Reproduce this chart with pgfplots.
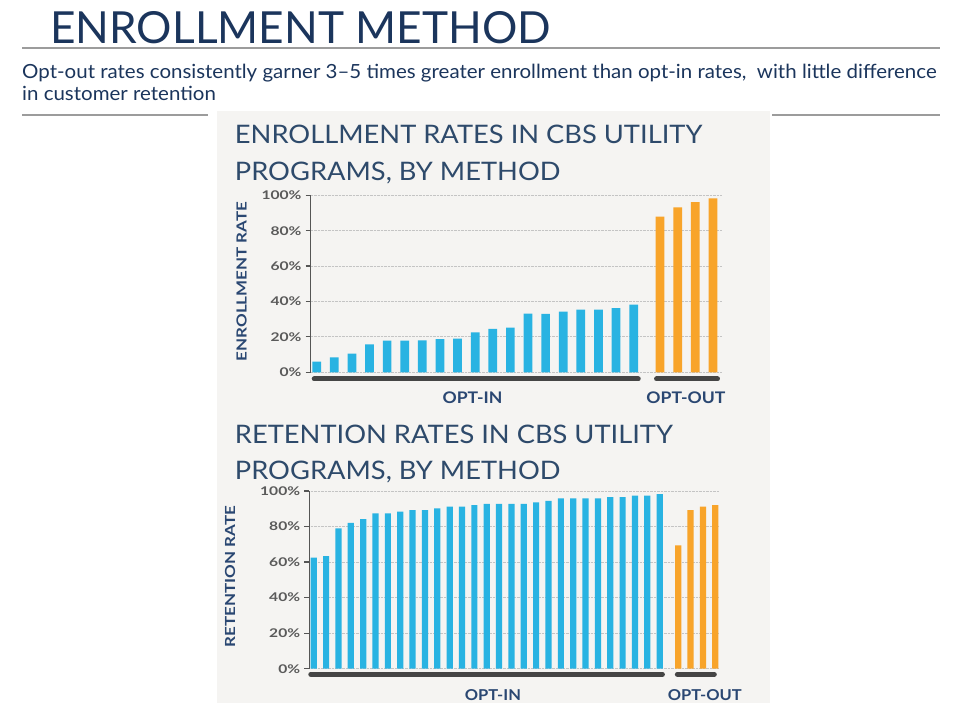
\documentclass[border=0pt]{standalone}
\usepackage{fontspec}
\setmainfont{Lato}
\newfontfamily\titlefont{Lato}
\newfontfamily\subfont[FakeStretch=1.05]{Lato}
\newfontfamily\panelfont[FakeStretch=1.07]{Lato}
\newfontfamily\tickfont[FakeStretch=1.3]{Lato}
\newfontfamily\lblfont[FakeStretch=1.1]{Lato}
\newfontfamily\ylblfont[FakeStretch=1.22]{Lato}
\usepackage{pgfplots}
\pgfplotsset{compat=1.18}
\usepackage{pgfplotstable}

\definecolor{titlenavy}{HTML}{1B355C}
\definecolor{panelnavy}{HTML}{2E4A6B}
\definecolor{lblnavy}{HTML}{2A4772}
\definecolor{tickgray}{HTML}{5A5A5A}
\definecolor{barblue}{HTML}{29B3E2}
\definecolor{barorange}{HTML}{F8A42A}
\definecolor{grpdark}{HTML}{454545}
\definecolor{gridgray}{HTML}{C4C4C4}
\definecolor{panelbg}{HTML}{F5F4F2}
\definecolor{rulegray}{HTML}{9C9C9C}
\definecolor{axisgray}{HTML}{555555}

\pgfplotstableread{
x y
0 6
1 8.5
2 10.5
3 15.8
4 17.9
5 17.9
6 18
7 18.8
8 19
9 22.6
10 24.5
11 25.2
12 33.1
13 33
14 34.3
15 35.4
16 35.4
17 36.3
18 38.2
}\enrollIn

\pgfplotstableread{
x y
19.5 88
20.5 93.2
21.5 96.2
22.5 98.3
}\enrollOut

\pgfplotstableread{
x y
0 62.5
1 63.4
2 79
3 82
4 84.2
5 87.4
6 87.4
7 88.4
8 89.3
9 89.3
10 90.2
11 91.2
12 91.2
13 92
14 92.7
15 92.7
16 92.7
17 92.7
18 93.6
19 94.4
20 95.8
21 95.8
22 95.8
23 95.8
24 96.6
25 96.6
26 97.4
27 97.4
28 98.3
}\retainIn

\pgfplotstableread{
x y
29.5 69.4
30.5 89.3
31.5 91.2
32.5 92
}\retainOut

\pgfplotsset{
  cbsbar/.style={
    scale only axis,
    ybar, bar shift=0pt,
    ymin=0, ymax=100,
    ytick={0,20,40,60,80,100},
    yticklabels={0\%,20\%,40\%,60\%,80\%,100\%},
    yticklabel style={font=\tickfont\bfseries\fontsize{12}{13}\selectfont, text=tickgray, inner sep=0pt, xshift=-4pt},
    axis x line=none,
    axis y line*=left,
    axis line style={draw=axisgray, line width=1.3pt},
    tick align=outside,
    major tick length=5pt,
    ytick style={draw=axisgray, line width=1.2pt},
    ymajorgrids,
    grid style={densely dotted, draw=gridgray, line width=0.9pt},
    clip=false,
  },
}
\tikzset{
  grpline/.style={draw=grpdark, line width=5pt, line cap=round},
  grplbl/.style={font=\lblfont\bfseries\fontsize{16}{18}\selectfont, text=lblnavy, anchor=base, inner sep=0pt},
}

\begin{document}
\begin{tikzpicture}
\fill[white] (0,0) rectangle (960pt,720pt);
\useasboundingbox (0,0) rectangle (960pt,720pt);

% header
\node[anchor=base west, inner sep=0pt, text=titlenavy, font=\titlefont\fontsize{44.2}{50}\selectfont] at (50pt,676pt) {ENROLLMENT METHOD};
\draw[rulegray, line width=1.2pt] (22pt,672pt) -- (940pt,672pt);
\node[anchor=base west, inner sep=0pt, text=titlenavy, font=\subfont\fontsize{19.5}{22}\selectfont] at (22pt,641pt) {Opt-out rates consistently garner 3–5 times greater enrollment than opt-in rates,\ \ with little difference};
\node[anchor=base west, inner sep=0pt, text=titlenavy, font=\subfont\fontsize{19.5}{22}\selectfont] at (22pt,619pt) {in customer retention};
\draw[rulegray, line width=1.2pt] (22pt,605pt) -- (208pt,605pt);
\draw[rulegray, line width=1.2pt] (772pt,605pt) -- (940pt,605pt);

% panel
\fill[panelbg] (217.3pt,17.3pt) rectangle (770pt,609pt);

% panel titles
\node[anchor=base west, inner sep=0pt, text=panelnavy, font=\panelfont\fontsize{25.5}{28}\selectfont] at (234.7pt,576pt) {ENROLLMENT RATES IN CBS UTILITY};
\node[anchor=base west, inner sep=0pt, text=panelnavy, font=\panelfont\fontsize{25.5}{28}\selectfont] at (234.7pt,539pt) {PROGRAMS, BY METHOD};
\node[anchor=base west, inner sep=0pt, text=panelnavy, font=\panelfont\fontsize{25.5}{28}\selectfont] at (234.7pt,276.7pt) {RETENTION RATES IN CBS UTILITY};
\node[anchor=base west, inner sep=0pt, text=panelnavy, font=\panelfont\fontsize{25.5}{28}\selectfont] at (234.7pt,240.7pt) {PROGRAMS, BY METHOD};

% top chart
\begin{axis}[cbsbar,
  at={(310.7pt,347.7pt)}, anchor=south west,
  width=411pt, height=177pt,
  xmin=-0.34, xmax=23.0,
  bar width=8.7pt]
\addplot[draw=none, fill=barblue] table[x=x,y=y]{\enrollIn};
\addplot[draw=none, fill=barorange] table[x=x,y=y]{\enrollOut};
\draw[grpline] ([yshift=-6.7pt]axis cs:-0.14,0) -- ([yshift=-6.7pt]axis cs:18.26,0);
\draw[grpline] ([yshift=-6.7pt]axis cs:19.30,0) -- ([yshift=-6.7pt]axis cs:22.76,0);
\node[grplbl] at ([yshift=-31.7pt]axis cs:8.85,0) {OPT-IN};
\node[grplbl] at ([yshift=-31.7pt]axis cs:20.97,0) {OPT-OUT};
\end{axis}

% bottom chart
\begin{axis}[cbsbar,
  at={(309.3pt,51.3pt)}, anchor=south west,
  width=409.7pt, height=177.7pt,
  xmin=-0.36, xmax=32.8,
  bar width=6.2pt]
\addplot[draw=none, fill=barblue] table[x=x,y=y]{\retainIn};
\addplot[draw=none, fill=barorange] table[x=x,y=y]{\retainOut};
\draw[grpline] ([yshift=-5.6pt]axis cs:-0.24,0) -- ([yshift=-5.6pt]axis cs:28.22,0);
\draw[grpline] ([yshift=-5.6pt]axis cs:29.43,0) -- ([yshift=-5.6pt]axis cs:32.42,0);
\node[grplbl, font=\lblfont\bfseries\fontsize{15}{17}\selectfont] at ([yshift=-31.3pt]axis cs:14.5,0) {OPT-IN};
\node[grplbl, font=\lblfont\bfseries\fontsize{15}{17}\selectfont] at ([yshift=-31.3pt]axis cs:31.65,0) {OPT-OUT};
\end{axis}

% y labels
\node[rotate=90, inner sep=0pt, text=lblnavy, font=\ylblfont\bfseries\fontsize{13.9}{16}\selectfont] at (241.7pt,438.5pt) {ENROLLMENT RATE};
\node[rotate=90, inner sep=0pt, text=lblnavy, font=\ylblfont\bfseries\fontsize{13.9}{16}\selectfont] at (230pt,143.5pt) {RETENTION RATE};
\end{tikzpicture}
\end{document}
